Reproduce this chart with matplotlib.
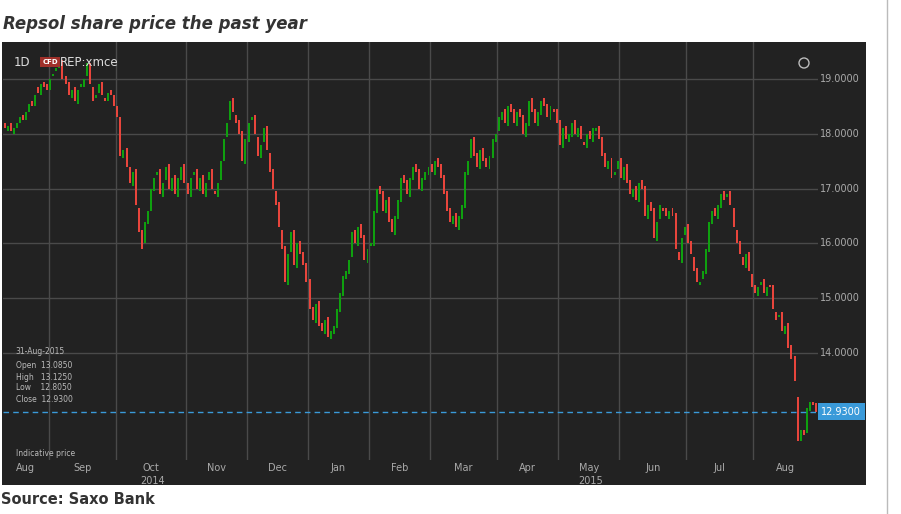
import matplotlib
matplotlib.use("Agg")
import matplotlib.pyplot as plt
from matplotlib.patches import Rectangle, Ellipse
import numpy as np

months = ["Aug", "Sep", "Oct", "Nov", "Dec", "Jan", "Feb", "Mar", "Apr", "May", "Jun", "Jul", "Aug"]
yticks = [14, 15, 16, 17, 18, 19]
closes_by_month = [
    [18.1,18.15,18.05,18.1,18.2,18.3,18.25,18.4,18.55,18.5,18.7,18.75,18.9,18.85,18.8],
    [19.0,19.1,19.2,19.3,19.0,18.9,18.7,18.8,18.6,18.8,18.9,19.0,19.3,18.9,18.6,18.7,18.9,18.7,18.6,18.75,18.7,18.5],
    [18.3,17.6,17.7,17.4,17.1,17.3,16.7,16.2,15.9,16.4,16.6,17.0,17.2,17.3,16.9,17.1,17.4,17.0,17.2,16.9,17.2,17.4,17.1],
    [16.9,17.2,17.3,17.0,17.2,16.9,17.1,17.3,17.0,16.9,17.1,17.5,17.9,18.2,18.6,18.4,18.2,18.0,17.5,17.9],
    [18.2,18.3,18.0,17.6,17.8,18.1,17.7,17.3,17.0,16.7,16.3,15.9,15.3,15.8,16.2,15.6,16.0,15.8,15.6,15.3],
    [14.8,14.6,14.9,14.5,14.4,14.6,14.3,14.4,14.5,14.8,15.1,15.4,15.5,15.7,16.2,16.0,16.3,16.1,15.7,15.9],
    [16.0,16.6,17.0,16.9,16.6,16.8,16.4,16.2,16.5,16.8,17.2,17.1,16.9,17.2,17.4,17.3,17.0,17.2,17.3,17.4],
    [17.3,17.5,17.4,17.2,16.9,16.6,16.4,16.5,16.3,16.5,16.7,17.3,17.5,17.9,17.6,17.4,17.7,17.5,17.4,17.6,17.9,18.0],
    [18.3,18.4,18.2,18.5,18.4,18.2,18.4,18.3,18.0,18.2,18.6,18.4,18.2,18.4,18.6,18.5,18.3,18.5,18.4,18.2],
    [17.8,18.1,17.9,18.0,18.2,18.0,18.1,17.9,17.8,18.0,17.9,18.1,18.1,17.9,17.6,17.4,17.5,17.2,17.3,17.5],
    [17.2,17.4,17.1,16.9,17.0,16.8,17.1,17.0,16.5,16.7,16.6,16.1,16.4,16.7,16.6,16.5,16.6,16.5,15.9,15.7,16.1,16.3],
    [16.0,15.8,15.5,15.3,15.3,15.5,15.9,16.4,16.6,16.5,16.7,16.9,16.8,16.9,16.7,16.3,16.0,15.8,15.6,15.8,15.5,15.2],
    [15.1,15.2,15.3,15.1,15.2,15.2,14.8,14.6,14.7,14.4,14.5,14.1,13.9,13.5,12.4,12.6,12.5,13.0,13.1,13.05,12.93],
]
opens_by_month = [
    [18.2,18.05,18.2,18.0,18.1,18.2,18.35,18.25,18.4,18.6,18.5,18.85,18.7,18.95,18.9],
    [18.8,19.05,19.15,19.2,19.35,19.05,18.95,18.65,18.85,18.55,18.85,18.85,19.05,19.3,18.85,18.65,18.75,18.95,18.65,18.6,18.8,18.7],
    [18.5,18.3,17.55,17.75,17.4,17.05,17.35,16.65,16.25,16.0,16.35,16.6,16.95,17.25,17.35,16.85,17.15,17.45,16.95,17.25,16.85,17.15,17.45],
    [17.1,16.85,17.25,17.35,16.95,17.25,16.85,17.15,17.35,16.95,16.85,17.15,17.5,17.95,18.25,18.65,18.35,18.25,18.05,17.45],
    [17.85,18.25,18.35,17.95,17.55,17.85,18.15,17.65,17.35,16.95,16.75,16.25,15.95,15.25,15.85,16.25,15.55,16.05,15.85,15.65],
    [15.35,14.85,14.55,14.95,14.55,14.35,14.65,14.25,14.35,14.45,14.75,15.05,15.35,15.45,15.75,16.25,15.95,16.35,16.15,15.65],
    [15.95,15.95,16.55,17.05,16.95,16.55,16.85,16.45,16.15,16.45,16.75,17.25,17.15,16.85,17.15,17.45,17.35,16.95,17.15,17.25],
    [17.45,17.25,17.55,17.45,17.25,16.95,16.65,16.35,16.55,16.25,16.45,16.65,17.25,17.55,17.95,17.65,17.35,17.75,17.55,17.35,17.55,17.85],
    [18.05,18.25,18.45,18.15,18.55,18.45,18.15,18.45,18.35,17.95,18.15,18.65,18.45,18.15,18.35,18.65,18.55,18.25,18.45,18.45],
    [18.25,17.75,18.15,17.85,17.95,18.25,17.95,18.15,17.85,17.75,18.05,17.85,18.05,18.15,17.95,17.65,17.35,17.55,17.25,17.35],
    [17.55,17.15,17.45,17.15,16.85,17.05,16.75,17.15,17.05,16.45,16.75,16.65,16.05,16.45,16.65,16.65,16.45,16.65,16.55,15.85,15.65,16.15],
    [16.35,16.05,15.75,15.55,15.25,15.35,15.45,15.85,16.35,16.65,16.45,16.65,16.95,16.85,16.95,16.65,16.25,16.05,15.75,15.55,15.85,15.45],
    [15.25,15.05,15.25,15.35,15.05,15.25,15.25,14.75,14.65,14.75,14.35,14.55,14.15,13.95,13.2,12.4,12.6,12.55,12.95,13.1,13.085],
]
last_close = 12.93
info_lines = ["Open  13.0850", "High   13.1250", "Low    12.8050", "Close  12.9300"]

W, H = 901, 514
fig = plt.figure(figsize=(W / 100, H / 100), dpi=100)
fig.patch.set_facecolor("white")
def fx(px): return px / W
def fy(py): return 1 - py / H

bg = Rectangle((fx(2), fy(485)), fx(864), (485 - 42) / H, transform=fig.transFigure,
               facecolor="#222222", edgecolor="none", zorder=-5)
fig.patches.append(bg)
fig.add_artist(plt.Line2D([fx(887), fx(887)], [0, 1], color="#bbbbbb", lw=1))

ax = fig.add_axes([fx(3), fy(460), 815 / W, 418 / H])
ax.set_zorder(1)
ax.set_facecolor("#222222")
ax.patch.set_alpha(0)

closes = np.concatenate([np.array(c) for c in closes_by_month])
opens = np.concatenate([np.array(o) for o in opens_by_month])
idx = np.arange(len(closes))
starts = np.cumsum([0] + [len(c) for c in closes_by_month])

up = closes >= opens
body = np.where(np.abs(closes - opens) < 0.03, 0.03, np.abs(closes - opens))
lo = np.minimum(opens, closes)
ax.bar(idx[up], body[up], bottom=lo[up], width=0.65, color="#0fa00f", zorder=3)
ax.bar(idx[~up], body[~up], bottom=lo[~up], width=0.65, color="#e8453c", zorder=3)

ax.set_xlim(-0.5, len(closes) - 0.3)
ax.set_ylim(12.05, 19.675)
for y in yticks:
    ax.axhline(y, color="#4a4a4a", lw=1, zorder=1)
for s in starts[1:-1]:
    ax.axvline(s - 0.5, color="#4a4a4a", lw=1, zorder=1)
ax.axhline(last_close, color="#3a9ad9", lw=1, ls=(0, (4, 3)), zorder=4)
for sp in ax.spines.values():
    sp.set_visible(False)
ax.set_xticks([]); ax.set_yticks([])

for y in yticks:
    ax.text(1.003, (y - 12.05) / (19.675 - 12.05), f"{y:.4f}", transform=ax.transAxes,
            color="#aaaaaa", fontsize=7, va="center", ha="left")
ax.text(1.004, (last_close - 12.05) / (19.675 - 12.05), f"{last_close:.4f}", transform=ax.transAxes,
        color="white", fontsize=7, va="center", ha="left",
        bbox=dict(boxstyle="square,pad=0.35", fc="#3a9ad9", ec="none"))

for i, m in enumerate(months):
    a, b = starts[i], starts[i + 1]
    ax.text((a + b - 1) / 2, 12.05 - 0.06, m, color="#aaaaaa", fontsize=7, ha="center", va="top", clip_on=False)
ax.text((starts[2] + starts[3]) / 2, 12.05 - 0.3, "2014", color="#aaaaaa", fontsize=7, ha="center", va="top", clip_on=False)
ax.text((starts[9] + starts[10]) / 2, 12.05 - 0.3, "2015", color="#aaaaaa", fontsize=7, ha="center", va="top", clip_on=False)

fig.text(fx(3), fy(24), "Repsol share price the past year", fontsize=12, fontweight="bold",
         fontstyle="italic", color="#333333", va="center")
fig.text(fx(1), fy(500), "Source: Saxo Bank", fontsize=10.5, fontweight="bold", color="#333333", va="center")

fig.text(fx(14), fy(62), "1D", color="#dddddd", fontsize=8.5, va="center", zorder=5)
fig.text(fx(50), fy(62), "CFD", color="white", fontsize=5, va="center", ha="center", fontweight="bold", zorder=5,
         bbox=dict(boxstyle="square,pad=0.3", fc="#a0302a", ec="none"))
fig.text(fx(60), fy(62), "REP:xmce", color="#dddddd", fontsize=8.5, va="center", zorder=5)
fig.text(fx(15), fy(351), "31-Aug-2015", color="#bbbbbb", fontsize=5.5, va="center", zorder=5)
for k, t in enumerate(info_lines):
    fig.text(fx(16), fy(366 + k * 11), t, color="#bbbbbb", fontsize=5.5, va="center", zorder=5)
fig.text(fx(16), fy(454), "Indicative price", color="#bbbbbb", fontsize=5.5, va="center", zorder=5)
fig.add_artist(Ellipse((fx(804), fy(63)), 10 / W, 10 / H, transform=fig.transFigure, fill=False,
                       ec="#bbbbbb", lw=1, zorder=5))

fig.savefig("out.png", dpi=100)
